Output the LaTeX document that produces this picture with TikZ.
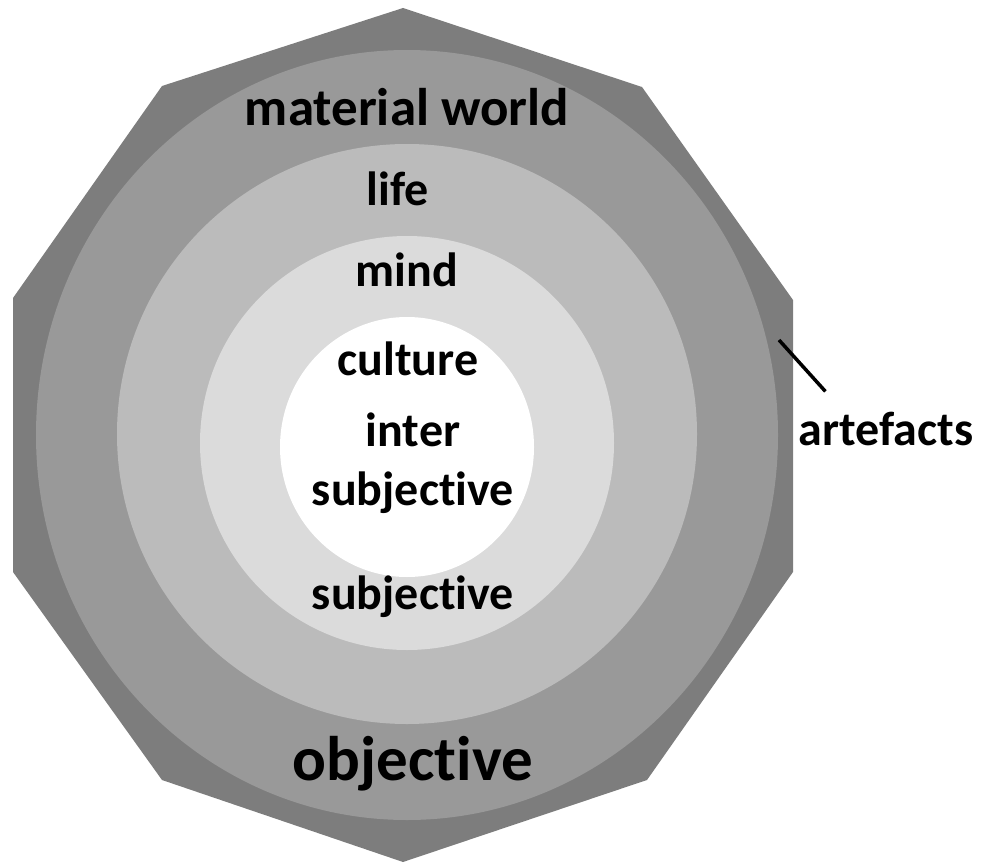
\documentclass[tikz,border=0pt]{standalone}
\usepackage{fontspec}
\setmainfont{Carlito}[RawFeature=-liga]
\usetikzlibrary{positioning}
\definecolor{plate}{gray}{0.49}
\definecolor{ringa}{gray}{0.60}
\definecolor{ringb}{gray}{0.735}
\definecolor{ringc}{gray}{0.86}
\tikzset{
  layer/.style={font=\fontsize{48}{59}\selectfont\bfseries, inner sep=0pt, anchor=base},
}
\begin{document}
\begin{tikzpicture}[x=1pt,y=-1pt]
\useasboundingbox (0,0) rectangle (982,864);
% ten-sided plate
\fill[plate] (403,8) -- (642,87) -- (793,300) -- (793,572) -- (647,780)
  -- (403,862) -- (162,780) -- (13,572) -- (13,298) -- (162,86) -- cycle;
% rings, outside in
\foreach \rx/\ry/\cy/\tone in {371/385/435/ringa, 290/290/434/ringb,
                               207/207/443/ringc, 127/130/447/white}
{
        \fill[\tone] (407,\cy) ellipse [x radius=\rx, y radius=\ry];
}
\node[layer, font=\fontsize{53}{60}\selectfont\bfseries] (material) at (407,125) {material world};
\node[layer] (life) at (398,205) {life};
\node[layer] (mind) at (407,286) {mind};
\node[layer] (culture) at (408,375) {culture};
\node[layer, anchor=center, align=center] (inter) at (413,463) {inter\\subjective};
\node[layer] (subj) at (413,609) {subjective};
\node[layer, font=\fontsize{63}{70}\selectfont\bfseries] (obj) at (413,780) {objective};
\node[layer] (artefacts) at (886,445) {artefacts};
% pointer to the plate
\coordinate (artpt) at (779,340);
\draw[line width=3.5pt, shorten >=27pt] (artpt) -- ([xshift=45pt]artefacts.north west);
\end{tikzpicture}
\end{document}
